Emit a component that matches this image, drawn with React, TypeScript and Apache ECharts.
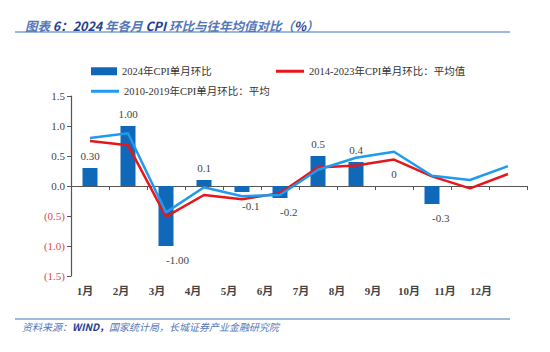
import React, { useEffect, useRef } from "react";
import * as echarts from "echarts";

const months = ["1月", "2月", "3月", "4月", "5月", "6月", "7月", "8月", "9月", "10月", "11月", "12月"];
const cpi2024 = [0.3, 1.0, -1.0, 0.1, -0.1, -0.2, 0.5, 0.4, 0, -0.3, null, null];
const cpi2024Labels = ["0.30", "1.00", "-1.00", "0.1", "-0.1", "-0.2", "0.5", "0.4", "0", "-0.3", "", ""];
const avg2014_2023 = [0.75, 0.68, -0.51, -0.15, -0.22, -0.12, 0.31, 0.34, 0.44, 0.16, -0.04, 0.2];
const avg2010_2019 = [0.8, 0.88, -0.44, -0.02, -0.17, -0.15, 0.27, 0.47, 0.57, 0.17, 0.1, 0.33];
const yTickLabels: Record<string, string> = {
  "1.5": "1.5", "1": "1.0", "0.5": "0.5", "0": "0.0", "-0.5": "(0.5)", "-1": "(1.0)", "-1.5": "(1.5)",
};
const names = ["2024年CPI单月环比", "2014-2023年CPI单月环比：平均值", "2010-2019年CPI单月环比：平均"];

const FONT = "'Liberation Serif', 'Noto Sans CJK SC', serif";
const CJK = "'Noto Sans CJK SC', sans-serif";

export default function App() {
  const ref = useRef<HTMLDivElement>(null);
  useEffect(() => {
    document.body.style.margin = "0";
    const chart = echarts.init(ref.current!, null, { renderer: "svg" });
    chart.setOption({
      animation: false,
      backgroundColor: "#fff",
      title: {
        left: 20,
        top: 14,
        text: "{l|图表 }{b|6：2024 }{l|年各月 }{b|CPI }{l|环比与往年均值对比（}{b|%}{l|）}",
        textStyle: {
          rich: {
            l: { fontFamily: CJK, fontSize: 12.5, fontStyle: "italic", color: "#5577b8" },
            b: { fontFamily: CJK, fontSize: 12.5, fontStyle: "italic", fontWeight: "bold", color: "#1f3f8f" },
          },
        },
      },
      graphic: [
        { type: "line", shape: { x1: 15, y1: 32, x2: 510, y2: 32 }, style: { stroke: "#7f9fd4", lineWidth: 1.5 } },
        { type: "line", shape: { x1: 15, y1: 319, x2: 510, y2: 319 }, style: { stroke: "#7f9fd4", lineWidth: 1.5 } },
        {
          type: "text",
          left: 22,
          top: 321,
          style: {
            text: "{l|资料来源：}{b|WIND，}{l|国家统计局，长城证券产业金融研究院}",
            rich: {
              l: { fontFamily: CJK, fontSize: 10, fontStyle: "italic", fill: "#5577b8" },
              b: { fontFamily: CJK, fontSize: 10, fontStyle: "italic", fontWeight: "bold", fill: "#1f3f8f" },
            },
          },
        },
      ],
      legend: [
        {
          left: 86, top: 61, data: [{ name: names[0], icon: "rect" }], itemWidth: 26, itemHeight: 8, itemGap: 4,
          textStyle: { fontFamily: FONT, fontSize: 10.5, color: "#333" },
        },
        {
          left: 271, top: 61, data: [{ name: names[1], icon: "rect" }], itemWidth: 28, itemHeight: 3,
          textStyle: { fontFamily: FONT, fontSize: 10.5, color: "#333" },
        },
        {
          left: 86, top: 81, data: [{ name: names[2], icon: "rect" }], itemWidth: 28, itemHeight: 3,
          textStyle: { fontFamily: FONT, fontSize: 10.5, color: "#333" },
        },
      ],
      grid: [
        { left: 71, right: 23, top: 96, bottom: 76 },
        { left: 67, width: 432, top: 96, bottom: 76 },
      ],
      xAxis: [
        {
          type: "category",
          data: months,
          gridIndex: 0,
          axisLine: { onZero: true, lineStyle: { color: "#555", width: 1.2 } },
          axisTick: { show: true, length: 4, lineStyle: { color: "#555" } },
          axisLabel: { show: false },
        },
        {
          type: "category",
          data: months,
          gridIndex: 1,
          position: "bottom",
          axisLine: { show: false, onZero: false },
          axisTick: { show: false },
          axisLabel: { margin: 9, fontFamily: FONT, fontSize: 11, fontWeight: "bold", color: "#444" },
        },
      ],
      yAxis: [
        {
          type: "value",
          gridIndex: 0,
          min: -1.5,
          max: 1.5,
          interval: 0.5,
          splitLine: { show: false },
          axisLine: { show: true, lineStyle: { color: "#555", width: 1.2 } },
          axisTick: { show: true, length: 4, lineStyle: { color: "#555" } },
          axisLabel: {
            margin: 6,
            fontFamily: FONT,
            fontSize: 11,
            formatter: (v: number) => {
              const k = String(Math.round(v * 10) / 10);
              return v < 0 ? "{r|" + yTickLabels[k] + "}" : yTickLabels[k];
            },
            color: "#444",
            rich: { r: { color: "#e0484e", fontFamily: FONT, fontSize: 11 } },
          },
        },
        { type: "value", gridIndex: 1, show: false, min: 0, max: 1 },
      ],
      series: [
        {
          name: names[0],
          type: "bar",
          xAxisIndex: 0,
          yAxisIndex: 0,
          data: cpi2024,
          barWidth: 15,
          itemStyle: { color: "#1068b8" },
          label: {
            show: true,
            position: "top",
            distance: 7,
            fontFamily: FONT,
            fontSize: 11,
            color: "#444",
            formatter: (p: any) => cpi2024Labels[p.dataIndex],
          },
          labelLayout: (p: any) => {
            const v = cpi2024[p.dataIndex];
            if (v !== null && v < 0) {
              return { y: p.rect.y + p.rect.height + 8 };
            }
            return {};
          },
        },
        {
          name: names[1],
          type: "line",
          xAxisIndex: 0,
          yAxisIndex: 0,
          data: avg2014_2023,
          symbol: "none",
          lineStyle: { color: "#e8151b", width: 2.5 },
          itemStyle: { color: "#e8151b" },
          z: 3,
        },
        {
          name: names[2],
          type: "line",
          xAxisIndex: 0,
          yAxisIndex: 0,
          data: avg2010_2019,
          symbol: "none",
          lineStyle: { color: "#1e9bf0", width: 2.5 },
          itemStyle: { color: "#1e9bf0" },
          z: 4,
        },
      ],
    });
    return () => chart.dispose();
  }, []);
  return <div ref={ref} style={{ width: 550, height: 352 }} />;
}
